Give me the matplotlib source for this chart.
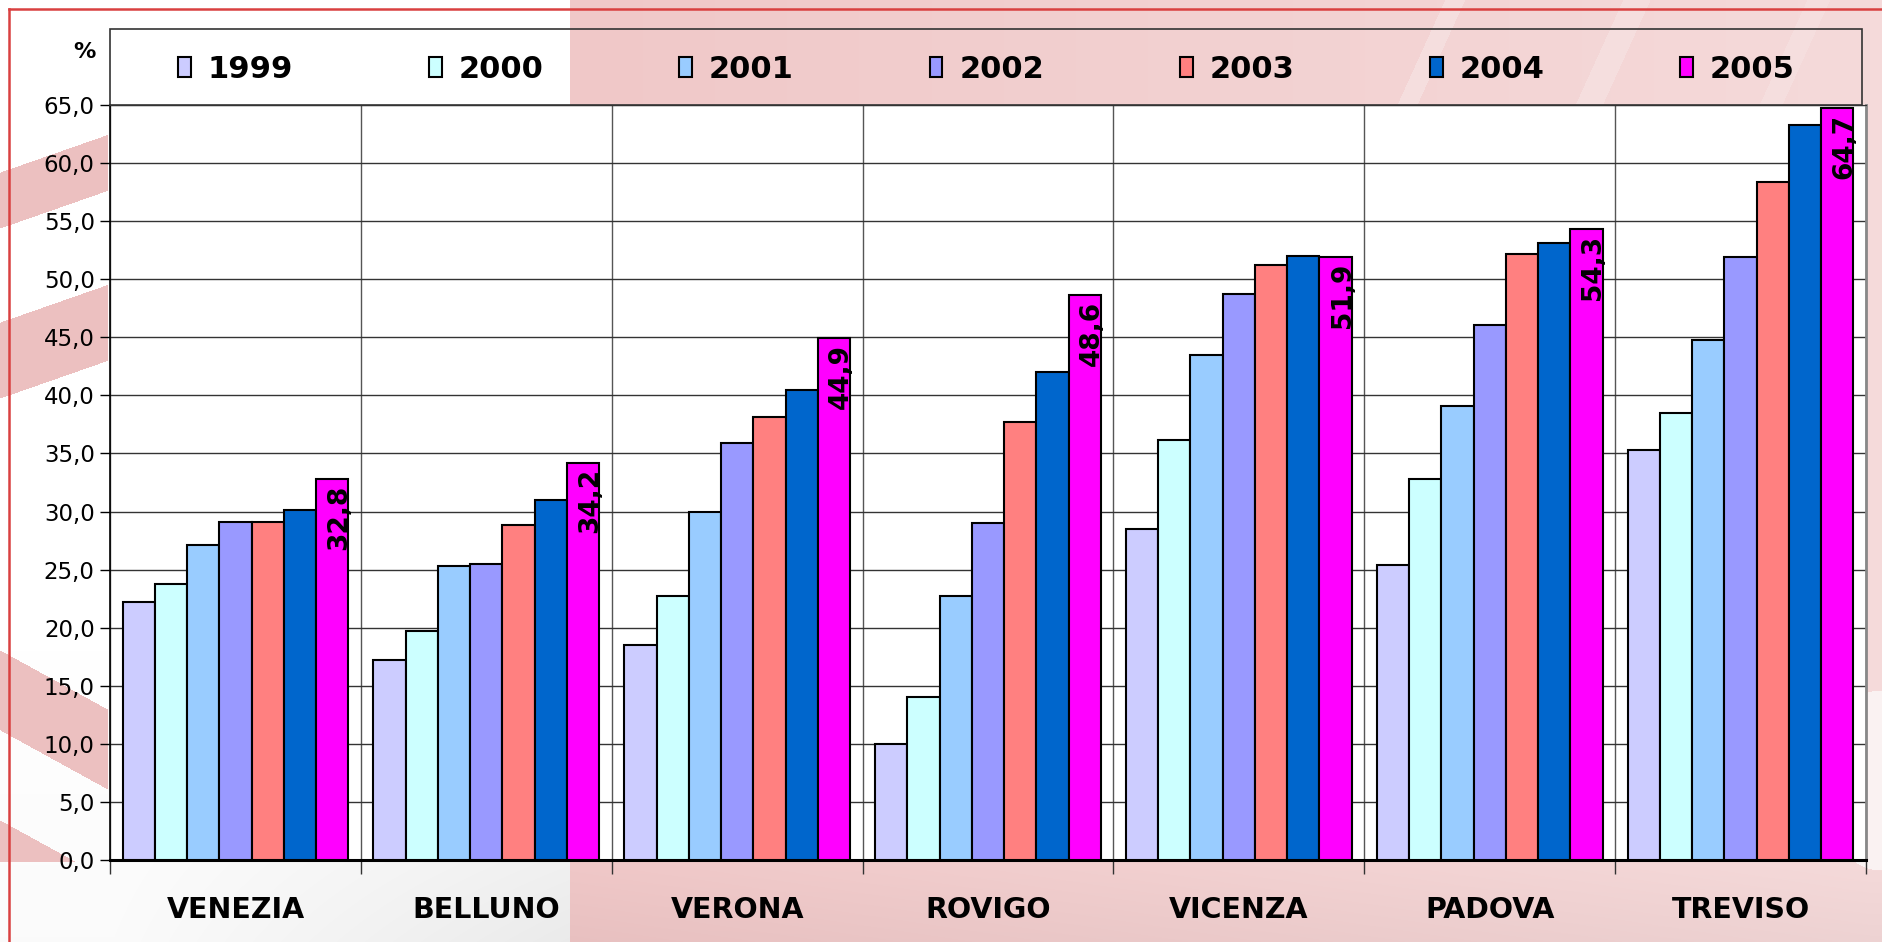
import numpy as np
import matplotlib.pyplot as plt
from matplotlib.lines import Line2D
from matplotlib.patches import Rectangle

# dati
cities = ['VENEZIA', 'BELLUNO', 'VERONA', 'ROVIGO', 'VICENZA', 'PADOVA', 'TREVISO']
years = ['1999', '2000', '2001', '2002', '2003', '2004', '2005']
v1999 = [22.2, 17.2, 18.5, 10.0, 28.5, 25.4, 35.3]
v2000 = [23.8, 19.7, 22.7, 14.0, 36.2, 32.8, 38.5]
v2001 = [27.1, 25.3, 30.0, 22.7, 43.5, 39.1, 44.8]
v2002 = [29.1, 25.5, 35.9, 29.0, 48.7, 46.1, 51.9]
v2003 = [29.1, 28.8, 38.1, 37.7, 51.2, 52.2, 58.4]
v2004 = [30.1, 31.0, 40.5, 42.0, 52.0, 53.1, 63.3]
v2005 = [32.8, 34.2, 44.9, 48.6, 51.9, 54.3, 64.7]
colors = ['#CCCCFF', '#CCFFFF', '#99CCFF', '#9999FF', '#FF8080', '#0066CC', '#FF00FF']
yticks = np.arange(0, 66, 5)

series = [v1999, v2000, v2001, v2002, v2003, v2004, v2005]

W, H = 1882, 942
fig = plt.figure(figsize=(W / 100, H / 100), dpi=100)

# sfondo del modello (bianco a sinistra, rosa a destra, strisce diagonali)
yy, xx = np.mgrid[0:H, 0:W]
bg = np.ones((H, W, 3))
grey = np.clip((yy - 650) / 292, 0, 1) * np.clip(xx / 570, 0.2, 1)
bg -= 0.08 * grey[..., None]
stripe = np.array([236, 192, 192]) / 255
def band(slope, c, w):
    return np.abs(yy - slope * xx - c) < w
left_bands = (band(-0.35, 200, 28) | band(-0.35, 360, 38) | band(0.55, 690, 40)
              | band(0.55, 860, 40)) & (xx < 108) & (yy > 105) & (yy < 862)
bg[left_bands] = stripe
t = np.clip((xx - 570) / 1300, 0, 1)[..., None]
pink = np.array([240, 200, 200]) / 255 * (1 - t) + np.array([245, 218, 218]) / 255 * t
pink = pink - 0.03 * np.clip((yy - 860) / 82, 0, 1)[..., None]
bg = np.where((xx >= 570)[..., None], pink, bg)
light = (band(-2.2, 3200, 22) | band(-2.2, 3600, 30) | band(-2.2, 4000, 25)) & (xx > 1250) & (yy < 110)
bg[light] = np.array([245, 222, 222]) / 255
blob = ((xx - 1880) ** 2 / 60 ** 2 + (yy - 780) ** 2 / 90 ** 2) < 1
bg[blob] = np.array([250, 242, 242]) / 255

bgax = fig.add_axes([0, 0, 1, 1], zorder=-10)
bgax.imshow(bg, aspect='auto', interpolation='bilinear')
bgax.axis('off')

# grafico
ax = fig.add_axes([110 / W, 82 / H, 1756 / W, 755 / H])
ax.set_facecolor('white')
x = np.arange(len(cities))
bw = 0.9 / 7
for i, (vals, c, yr) in enumerate(zip(series, colors, years)):
    ax.bar(x + (i - 3) * bw, vals, bw, color=c, edgecolor='black',
           linewidth=1.5, label=yr, zorder=3)

for xi, v in zip(x + 3 * bw, v2005):
    ax.annotate(f'{v:.1f}'.replace('.', ','), (xi, v), xytext=(5, -4),
                textcoords='offset points', rotation=90, ha='center', va='top',
                fontsize=19, fontweight='bold', zorder=5)

ax.set_xlim(-0.5, 6.5)
ax.set_ylim(0, 65)
ax.set_yticks(yticks)
ax.set_yticklabels([f'{v:.1f}'.replace('.', ',') for v in yticks], fontsize=16.5)
ax.tick_params(axis='y', length=7, width=1, direction='out', pad=4)
ax.set_xticks(x)
ax.set_xticklabels(cities, fontsize=20.5, fontweight='bold')
ax.tick_params(axis='x', which='major', length=0, pad=26)
ax.set_xticks(np.arange(-0.5, 7, 1), minor=True)
ax.tick_params(axis='x', which='minor', length=10, width=1, color='#333333')
ax.yaxis.grid(True, color='#333333', lw=1)
ax.xaxis.grid(True, which='minor', color='#555555', lw=1)
ax.set_axisbelow(True)

ax.spines['left'].set_linewidth(1.2)
ax.spines['bottom'].set_linewidth(2.2)
ax.spines['top'].set_color('#333333')
ax.spines['right'].set_color('#888888')
ax.spines['right'].set_linewidth(2)

# legenda
fig.add_artist(Rectangle((110 / W, 1 - 105 / H), 1752 / W, 76 / H, fill=False,
                         edgecolor='#333333', lw=1.2, transform=fig.transFigure))
handles, labels = ax.get_legend_handles_labels()
fig.legend(handles, labels, loc='center', ncol=7, mode='expand',
           bbox_to_anchor=(178 / W, 1 - 107 / H, (1795 - 178) / W, 76 / H),
           frameon=False, prop={'size': 22, 'weight': 'bold'},
           handlelength=0.42, handleheight=0.62, handletextpad=0.55,
           borderpad=0, borderaxespad=0)

fig.text(84 / W, 1 - 52 / H, '%', ha='center', va='center', fontsize=16, fontweight='bold')

# cornice rossa
fig.add_artist(Line2D([9 / W, 1], [1 - 9 / H, 1 - 9 / H], color='#D94040', lw=1.8,
                      transform=fig.transFigure))
fig.add_artist(Line2D([9 / W, 9 / W], [0, 1 - 9 / H], color='#D94040', lw=1.8,
                      transform=fig.transFigure))

fig.savefig('out.png', dpi=100)
